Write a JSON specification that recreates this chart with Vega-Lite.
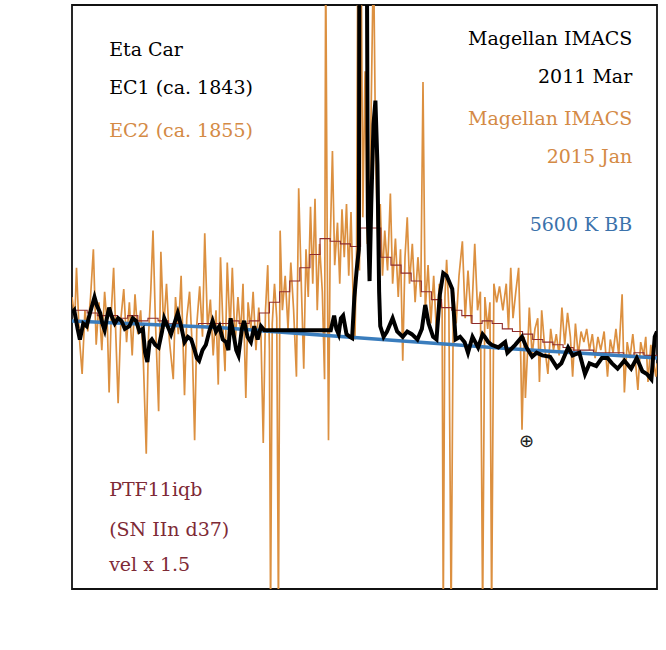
{
  "$schema": "https://vega.github.io/schema/vega-lite/v6.json",
  "width": 585,
  "height": 584,
  "autosize": {"type": "none"},
  "padding": {"left": 72, "top": 5, "right": 9, "bottom": 61},
  "background": "white",
  "config": {
    "view": {"stroke": "#111111", "strokeWidth": 1.8},
    "font": "DejaVu Serif"
  },
  "datasets": {
    "ec2": [
      {"v": -26.0, "f": 1.10}, {"v": -25.75, "f": 1.02}, {"v": -25.6, "f": 1.21}, {"v": -25.35, "f": 0.95}, {"v": -25.1, "f": 0.81},
      {"v": -24.85, "f": 1.05}, {"v": -24.6, "f": 0.97}, {"v": -24.35, "f": 1.10}, {"v": -24.1, "f": 1.28}, {"v": -23.85, "f": 0.92},
      {"v": -23.6, "f": 1.08}, {"v": -23.35, "f": 0.90}, {"v": -23.1, "f": 1.12}, {"v": -22.85, "f": 0.98}, {"v": -22.7, "f": 0.74},
      {"v": -22.5, "f": 1.05}, {"v": -22.3, "f": 1.21}, {"v": -22.1, "f": 0.95}, {"v": -21.9, "f": 0.70}, {"v": -21.65, "f": 1.02},
      {"v": -21.4, "f": 1.13}, {"v": -21.15, "f": 0.93}, {"v": -20.9, "f": 1.08}, {"v": -20.65, "f": 0.88}, {"v": -20.4, "f": 1.11},
      {"v": -20.15, "f": 0.96}, {"v": -19.9, "f": 1.05}, {"v": -19.65, "f": 0.85}, {"v": -19.4, "f": 0.51}, {"v": -19.2, "f": 0.95},
      {"v": -19.0, "f": 1.12}, {"v": -18.8, "f": 1.35}, {"v": -18.6, "f": 1.03}, {"v": -18.3, "f": 0.67}, {"v": -18.1, "f": 1.27},
      {"v": -17.85, "f": 0.98}, {"v": -17.6, "f": 1.15}, {"v": -17.35, "f": 0.94}, {"v": -17.0, "f": 0.79}, {"v": -16.8, "f": 1.10},
      {"v": -16.55, "f": 0.96}, {"v": -16.3, "f": 1.18}, {"v": -16.0, "f": 0.73}, {"v": -15.8, "f": 1.02}, {"v": -15.55, "f": 1.12},
      {"v": -15.3, "f": 0.90}, {"v": -15.1, "f": 0.56}, {"v": -14.9, "f": 1.00}, {"v": -14.65, "f": 1.14}, {"v": -14.4, "f": 0.95},
      {"v": -14.2, "f": 1.34}, {"v": -13.95, "f": 0.98}, {"v": -13.7, "f": 1.09}, {"v": -13.45, "f": 0.88}, {"v": -13.2, "f": 1.05},
      {"v": -13.0, "f": 0.77}, {"v": -12.8, "f": 1.25}, {"v": -12.55, "f": 0.95}, {"v": -12.4, "f": 0.82}, {"v": -12.2, "f": 1.23},
      {"v": -11.95, "f": 0.97}, {"v": -11.75, "f": 1.21}, {"v": -11.5, "f": 0.92}, {"v": -11.25, "f": 1.10}, {"v": -11.0, "f": 0.96},
      {"v": -10.8, "f": 1.15}, {"v": -10.55, "f": 0.72}, {"v": -10.35, "f": 1.08}, {"v": -10.1, "f": 0.98}, {"v": -9.9, "f": 1.12},
      {"v": -9.65, "f": 0.90}, {"v": -9.4, "f": 1.06}, {"v": -9.2, "f": 0.95}, {"v": -9.0, "f": 0.55}, {"v": -8.8, "f": 1.05},
      {"v": -8.6, "f": 1.22}, {"v": -8.45, "f": 0.90}, {"v": -8.35, "f": -0.1}, {"v": -8.2, "f": 1.00}, {"v": -8.0, "f": 1.15},
      {"v": -7.8, "f": 1.02}, {"v": -7.65, "f": -0.1}, {"v": -7.5, "f": 1.35}, {"v": -7.3, "f": 1.05}, {"v": -7.05, "f": 1.18},
      {"v": -6.8, "f": 0.98}, {"v": -6.55, "f": 1.23}, {"v": -6.3, "f": 1.05}, {"v": -6.05, "f": 0.80}, {"v": -5.85, "f": 1.51},
      {"v": -5.6, "f": 1.12}, {"v": -5.4, "f": 0.83}, {"v": -5.2, "f": 1.28}, {"v": -5.0, "f": 1.10}, {"v": -4.8, "f": 1.44},
      {"v": -4.6, "f": 1.15}, {"v": -4.4, "f": 1.47}, {"v": -4.2, "f": 1.05}, {"v": -4.0, "f": 1.30}, {"v": -3.75, "f": 1.12},
      {"v": -3.55, "f": 0.79}, {"v": -3.45, "f": 2.40}, {"v": -3.3, "f": 1.20}, {"v": -3.2, "f": 0.56}, {"v": -3.05, "f": 1.30},
      {"v": -2.85, "f": 1.65}, {"v": -2.65, "f": 1.22}, {"v": -2.4, "f": 1.38}, {"v": -2.2, "f": 1.15}, {"v": -2.0, "f": 1.43},
      {"v": -1.8, "f": 1.25}, {"v": -1.6, "f": 1.45}, {"v": -1.4, "f": 1.18}, {"v": -1.2, "f": 1.42}, {"v": -1.0, "f": 1.08},
      {"v": -0.85, "f": 0.94}, {"v": -0.7, "f": 1.30}, {"v": -0.6, "f": 2.40}, {"v": -0.45, "f": 1.20}, {"v": -0.3, "f": 2.40},
      {"v": -0.15, "f": 1.40}, {"v": 0.05, "f": 1.95}, {"v": 0.25, "f": 1.30}, {"v": 0.5, "f": 1.55}, {"v": 0.8, "f": 2.40},
      {"v": 1.0, "f": 1.60}, {"v": 1.2, "f": 1.30}, {"v": 1.4, "f": 1.45}, {"v": 1.6, "f": 1.18}, {"v": 1.8, "f": 1.35},
      {"v": 2.05, "f": 1.20}, {"v": 2.3, "f": 1.49}, {"v": 2.5, "f": 1.15}, {"v": 2.75, "f": 1.32}, {"v": 3.0, "f": 1.10},
      {"v": 3.2, "f": 1.28}, {"v": 3.4, "f": 0.86}, {"v": 3.6, "f": 1.25}, {"v": 3.8, "f": 1.40}, {"v": 4.0, "f": 1.15},
      {"v": 4.25, "f": 1.30}, {"v": 4.5, "f": 1.08}, {"v": 4.75, "f": 1.25}, {"v": 5.0, "f": 1.10}, {"v": 5.2, "f": 1.91},
      {"v": 5.4, "f": 1.05}, {"v": 5.65, "f": 1.22}, {"v": 5.9, "f": 1.00}, {"v": 6.15, "f": 1.18}, {"v": 6.4, "f": 0.96},
      {"v": 6.65, "f": 1.15}, {"v": 6.9, "f": 1.05}, {"v": 7.0, "f": -0.1}, {"v": 7.15, "f": 1.10}, {"v": 7.3, "f": 1.24},
      {"v": 7.5, "f": 1.05}, {"v": 7.7, "f": -0.1}, {"v": 7.9, "f": 1.12}, {"v": 8.15, "f": 1.00}, {"v": 8.4, "f": 1.18},
      {"v": 8.7, "f": 1.31}, {"v": 8.95, "f": 1.02}, {"v": 9.2, "f": 1.20}, {"v": 9.5, "f": 1.00}, {"v": 9.8, "f": 1.30},
      {"v": 10.05, "f": 1.05}, {"v": 10.3, "f": 1.12}, {"v": 10.5, "f": -0.1}, {"v": 10.7, "f": 1.10}, {"v": 10.95, "f": 0.98},
      {"v": 11.15, "f": 1.08}, {"v": 11.3, "f": -0.1}, {"v": 11.5, "f": 1.15}, {"v": 11.75, "f": 1.08}, {"v": 12.0, "f": 1.14},
      {"v": 12.3, "f": 1.05}, {"v": 12.6, "f": 1.15}, {"v": 12.8, "f": 0.98}, {"v": 13.0, "f": 1.21}, {"v": 13.2, "f": 1.02},
      {"v": 13.45, "f": 1.12}, {"v": 13.7, "f": 1.21}, {"v": 13.9, "f": 0.85}, {"v": 14.0, "f": 0.60}, {"v": 14.2, "f": 0.95},
      {"v": 14.3, "f": 0.72}, {"v": 14.5, "f": 0.90}, {"v": 14.65, "f": 1.06}, {"v": 14.9, "f": 0.88}, {"v": 15.15, "f": 0.98},
      {"v": 15.4, "f": 1.02}, {"v": 15.55, "f": 0.78}, {"v": 15.75, "f": 1.05}, {"v": 16.0, "f": 0.92}, {"v": 16.3, "f": 0.81},
      {"v": 16.55, "f": 0.98}, {"v": 16.8, "f": 0.90}, {"v": 17.05, "f": 0.96}, {"v": 17.3, "f": 0.88}, {"v": 17.55, "f": 1.06},
      {"v": 17.8, "f": 0.92}, {"v": 18.05, "f": 1.04}, {"v": 18.3, "f": 0.95}, {"v": 18.5, "f": 0.80}, {"v": 18.75, "f": 1.00},
      {"v": 19.0, "f": 0.88}, {"v": 19.25, "f": 0.97}, {"v": 19.5, "f": 0.93}, {"v": 19.75, "f": 0.98}, {"v": 20.0, "f": 0.90},
      {"v": 20.25, "f": 0.96}, {"v": 20.5, "f": 0.87}, {"v": 20.75, "f": 0.95}, {"v": 21.0, "f": 0.90}, {"v": 21.3, "f": 0.97},
      {"v": 21.6, "f": 0.80}, {"v": 21.85, "f": 0.94}, {"v": 22.1, "f": 0.89}, {"v": 22.35, "f": 0.98}, {"v": 22.6, "f": 0.88},
      {"v": 22.9, "f": 1.11}, {"v": 23.1, "f": 0.74}, {"v": 23.35, "f": 0.93}, {"v": 23.6, "f": 0.87}, {"v": 23.85, "f": 0.96},
      {"v": 24.1, "f": 0.85}, {"v": 24.3, "f": 0.75}, {"v": 24.55, "f": 0.93}, {"v": 24.8, "f": 0.88}, {"v": 25.0, "f": 0.95},
      {"v": 25.2, "f": 0.78}, {"v": 25.45, "f": 0.92}, {"v": 25.7, "f": 0.85}, {"v": 25.9, "f": 0.80}, {"v": 26.0, "f": 0.85}
    ],
    "ec1": [
      {"v": -26.0, "f": 1.04}, {"v": -25.8, "f": 1.05}, {"v": -25.5, "f": 0.98}, {"v": -25.3, "f": 0.94}, {"v": -25.0, "f": 1.00},
      {"v": -24.7, "f": 0.99}, {"v": -24.4, "f": 1.04}, {"v": -24.0, "f": 1.10}, {"v": -23.8, "f": 1.07}, {"v": -23.5, "f": 1.04},
      {"v": -23.3, "f": 1.00}, {"v": -23.1, "f": 0.975}, {"v": -22.9, "f": 1.02}, {"v": -22.7, "f": 1.06}, {"v": -22.5, "f": 1.03},
      {"v": -22.2, "f": 1.00}, {"v": -21.9, "f": 1.02}, {"v": -21.6, "f": 1.01}, {"v": -21.3, "f": 0.98}, {"v": -20.9, "f": 0.99},
      {"v": -20.6, "f": 1.02}, {"v": -20.3, "f": 1.01}, {"v": -20.0, "f": 0.97}, {"v": -19.7, "f": 0.98}, {"v": -19.5, "f": 0.89},
      {"v": -19.3, "f": 0.855}, {"v": -19.1, "f": 0.93}, {"v": -18.9, "f": 0.94}, {"v": -18.6, "f": 0.92}, {"v": -18.3, "f": 0.91},
      {"v": -18.0, "f": 0.97}, {"v": -17.8, "f": 1.02}, {"v": -17.5, "f": 0.99}, {"v": -17.2, "f": 0.96}, {"v": -16.9, "f": 1.00},
      {"v": -16.6, "f": 1.04}, {"v": -16.3, "f": 0.99}, {"v": -16.0, "f": 0.93}, {"v": -15.7, "f": 0.95}, {"v": -15.4, "f": 0.94},
      {"v": -15.1, "f": 0.90}, {"v": -14.9, "f": 0.87}, {"v": -14.7, "f": 0.86}, {"v": -14.4, "f": 0.90}, {"v": -14.1, "f": 0.92},
      {"v": -13.8, "f": 0.97}, {"v": -13.5, "f": 1.01}, {"v": -13.2, "f": 0.97}, {"v": -12.9, "f": 0.99}, {"v": -12.6, "f": 0.94},
      {"v": -12.3, "f": 0.93}, {"v": -12.1, "f": 0.90}, {"v": -11.9, "f": 1.02}, {"v": -11.6, "f": 0.95}, {"v": -11.4, "f": 0.90},
      {"v": -11.2, "f": 0.88}, {"v": -10.9, "f": 0.98}, {"v": -10.7, "f": 1.01}, {"v": -10.4, "f": 0.95}, {"v": -10.1, "f": 0.93},
      {"v": -9.8, "f": 0.99}, {"v": -9.5, "f": 0.94}, {"v": -9.2, "f": 0.99}, {"v": -8.9, "f": 0.975}, {"v": -3.0, "f": 0.975},
      {"v": -2.7, "f": 1.03}, {"v": -2.5, "f": 0.98}, {"v": -2.3, "f": 0.96}, {"v": -2.1, "f": 1.02}, {"v": -1.9, "f": 1.03},
      {"v": -1.6, "f": 0.96}, {"v": -1.3, "f": 0.95}, {"v": -1.1, "f": 0.945}, {"v": -0.9, "f": 1.10}, {"v": -0.7, "f": 1.20},
      {"v": -0.5, "f": 1.28}, {"v": -0.45, "f": 2.5}, {"v": -0.1, "f": 2.5}, {"v": 0.2, "f": 2.5}, {"v": 0.3, "f": 1.40},
      {"v": 0.45, "f": 1.16}, {"v": 0.6, "f": 1.45}, {"v": 0.8, "f": 1.75}, {"v": 0.97, "f": 1.84}, {"v": 1.15, "f": 1.60},
      {"v": 1.3, "f": 1.12}, {"v": 1.4, "f": 0.99}, {"v": 1.7, "f": 0.95}, {"v": 2.0, "f": 0.97}, {"v": 2.5, "f": 1.02},
      {"v": 2.9, "f": 0.97}, {"v": 3.4, "f": 0.95}, {"v": 3.8, "f": 0.97}, {"v": 4.2, "f": 0.96}, {"v": 4.7, "f": 0.94},
      {"v": 5.1, "f": 0.98}, {"v": 5.4, "f": 1.07}, {"v": 5.7, "f": 1.00}, {"v": 6.1, "f": 0.95}, {"v": 6.4, "f": 0.94},
      {"v": 6.7, "f": 1.11}, {"v": 7.0, "f": 1.19}, {"v": 7.3, "f": 1.18}, {"v": 7.8, "f": 1.13}, {"v": 8.1, "f": 0.94},
      {"v": 8.5, "f": 0.95}, {"v": 8.9, "f": 0.93}, {"v": 9.2, "f": 0.89}, {"v": 9.6, "f": 0.95}, {"v": 10.1, "f": 0.91},
      {"v": 10.5, "f": 0.96}, {"v": 10.7, "f": 0.95}, {"v": 11.0, "f": 0.93}, {"v": 11.3, "f": 0.92}, {"v": 11.9, "f": 0.91},
      {"v": 12.5, "f": 0.93}, {"v": 12.7, "f": 0.89}, {"v": 13.4, "f": 0.92}, {"v": 14.0, "f": 0.95}, {"v": 14.4, "f": 0.91},
      {"v": 14.9, "f": 0.875}, {"v": 15.3, "f": 0.89}, {"v": 15.8, "f": 0.88}, {"v": 16.5, "f": 0.875}, {"v": 17.1, "f": 0.835},
      {"v": 17.5, "f": 0.85}, {"v": 18.1, "f": 0.91}, {"v": 18.5, "f": 0.88}, {"v": 19.1, "f": 0.89}, {"v": 19.6, "f": 0.81},
      {"v": 20.0, "f": 0.85}, {"v": 20.6, "f": 0.84}, {"v": 21.1, "f": 0.87}, {"v": 21.6, "f": 0.87}, {"v": 22.0, "f": 0.85},
      {"v": 22.5, "f": 0.83}, {"v": 23.1, "f": 0.86}, {"v": 23.7, "f": 0.83}, {"v": 24.2, "f": 0.87}, {"v": 24.7, "f": 0.82},
      {"v": 25.1, "f": 0.81}, {"v": 25.5, "f": 0.79}, {"v": 25.8, "f": 0.95}, {"v": 26.0, "f": 0.97}
    ],
    "ptf": [
      {"v": -26.0, "f": 1.05}, {"v": -25.1, "f": 1.05}, {"v": -24.2, "f": 1.04}, {"v": -23.3, "f": 1.03}, {"v": -22.4, "f": 1.03},
      {"v": -21.5, "f": 1.02}, {"v": -20.6, "f": 1.03}, {"v": -19.7, "f": 1.01}, {"v": -18.8, "f": 1.02}, {"v": -17.9, "f": 1.01},
      {"v": -17.0, "f": 1.00}, {"v": -16.1, "f": 0.99}, {"v": -15.2, "f": 0.99}, {"v": -14.3, "f": 1.00}, {"v": -13.4, "f": 1.00},
      {"v": -12.5, "f": 1.00}, {"v": -11.6, "f": 1.01}, {"v": -10.7, "f": 1.00}, {"v": -9.8, "f": 1.01}, {"v": -8.9, "f": 1.04},
      {"v": -8.0, "f": 1.08}, {"v": -7.1, "f": 1.12}, {"v": -6.2, "f": 1.16}, {"v": -5.3, "f": 1.21}, {"v": -4.4, "f": 1.26},
      {"v": -3.5, "f": 1.32}, {"v": -2.6, "f": 1.31}, {"v": -1.7, "f": 1.30}, {"v": -0.8, "f": 1.29}, {"v": 0.1, "f": 1.36},
      {"v": 1.0, "f": 1.36}, {"v": 1.9, "f": 1.25}, {"v": 2.8, "f": 1.22}, {"v": 3.7, "f": 1.19}, {"v": 4.6, "f": 1.16},
      {"v": 5.5, "f": 1.12}, {"v": 6.4, "f": 1.09}, {"v": 7.3, "f": 1.06}, {"v": 8.2, "f": 1.05}, {"v": 9.1, "f": 1.03},
      {"v": 10.0, "f": 1.00}, {"v": 10.9, "f": 1.01}, {"v": 11.8, "f": 1.00}, {"v": 12.7, "f": 0.98}, {"v": 13.6, "f": 0.97},
      {"v": 14.5, "f": 0.96}, {"v": 15.4, "f": 0.94}, {"v": 16.3, "f": 0.93}, {"v": 17.2, "f": 0.92}, {"v": 18.1, "f": 0.91},
      {"v": 19.0, "f": 0.90}, {"v": 19.9, "f": 0.90}, {"v": 20.8, "f": 0.89}, {"v": 21.7, "f": 0.89}, {"v": 22.6, "f": 0.89},
      {"v": 23.5, "f": 0.88}, {"v": 24.4, "f": 0.89}, {"v": 25.3, "f": 0.88}, {"v": 26.2, "f": 0.88}
    ],
    "bb": [
      {"v": -26.0, "f": 1.01}, {"v": -13.0, "f": 0.985}, {"v": 0.0, "f": 0.945}, {"v": 13.0, "f": 0.905}, {"v": 26.0, "f": 0.87}
    ],
    "leftLabels": [
      {"text": "Eta Car", "vx": -22.7, "vy": 2.03, "series": "EC1"},
      {"text": "EC1 (ca. 1843)", "vx": -22.7, "vy": 1.887, "series": "EC1"},
      {"text": "EC2 (ca. 1855)", "vx": -22.7, "vy": 1.725, "series": "EC2"},
      {"text": "PTF11iqb", "vx": -22.7, "vy": 0.373, "series": "PTF"},
      {"text": "(SN IIn d37)", "vx": -22.7, "vy": 0.224, "series": "PTF"},
      {"text": "vel x 1.5", "vx": -22.7, "vy": 0.09, "series": "PTF"}
    ],
    "rightLabels": [
      {"text": "Magellan IMACS", "vx": 23.8, "vy": 2.072, "series": "EC1"},
      {"text": "2011 Mar", "vx": 23.8, "vy": 1.93, "series": "EC1"},
      {"text": "Magellan IMACS", "vx": 23.8, "vy": 1.772, "series": "EC2"},
      {"text": "2015 Jan", "vx": 23.8, "vy": 1.627, "series": "EC2"},
      {"text": "5600 K BB", "vx": 23.8, "vy": 1.371, "series": "BB"}
    ],
    "telluric": [
      {"text": "⊕", "vx": 14.4, "vy": 0.553}
    ]
  },
  "layer": [
    {
      "data": {"name": "ec2"},
      "mark": {"type": "line", "color": "#dc9040", "strokeWidth": 1.7, "clip": true},
      "encoding": {
        "x": {"field": "v", "type": "quantitative", "scale": {"domain": [-26, 26], "nice": false, "zero": false},
          "axis": {"orient": "bottom",
            "values": [-25, -24, -23, -22, -21, -20, -19, -18, -17, -16, -15, -14, -13, -12, -11, -10, -9, -8, -7, -6, -5, -4, -3, -2, -1, 0, 1, 2, 3, 4, 5, 6, 7, 8, 9, 10, 11, 12, 13, 14, 15, 16, 17, 18, 19, 20, 21, 22, 23, 24, 25],
            "format": "d", "labelExpr": "datum.value % 10 === 0 ? datum.label : ''", "labelOverlap": false, "labelBound": false,
            "ticks": false, "domain": false,
            "grid": true, "gridColor": "#111111", "gridWidth": 1.6, "gridOpacity": 1,
            "gridDash": {"condition": {"test": "datum.value % 10 === 0", "value": [8, 568, 8, 100]}, "value": [4, 576, 4, 100]},
            "labelFontSize": 18, "labelPadding": 14,
            "title": "Relative Velocity (10³ km/s)", "titleFontSize": 22, "titleFontWeight": "normal", "titlePadding": 4}},
        "y": {"field": "f", "type": "quantitative", "scale": {"domain": [0, 2.2], "nice": false, "zero": false},
          "axis": {"orient": "left", "values": [0, 0.5, 1, 1.5, 2], "format": ".1f", "ticks": false, "domain": false,
            "grid": true, "gridColor": "#111111", "gridWidth": 1.6, "gridOpacity": 1, "gridDash": [8, 569, 8, 100],
            "labelFontSize": 18, "labelPadding": 3,
            "title": "Fλ (normalized)", "titleFontSize": 22, "titleFontWeight": "normal", "titlePadding": 7}}
      }
    },
    {
      "data": {"name": "ptf"},
      "mark": {"type": "line", "color": "#8e2c2c", "strokeWidth": 1.1, "interpolate": "step", "clip": true},
      "encoding": {
        "x": {"field": "v", "type": "quantitative", "scale": {"domain": [-26, 26], "nice": false, "zero": false}, "axis": null},
        "y": {"field": "f", "type": "quantitative", "scale": {"domain": [0, 2.2], "nice": false, "zero": false}, "axis": null}
      }
    },
    {
      "data": {"name": "bb"},
      "mark": {"type": "line", "color": "#3a7dbd", "strokeWidth": 3.5, "clip": true},
      "encoding": {
        "x": {"field": "v", "type": "quantitative", "scale": {"domain": [-26, 26], "nice": false, "zero": false}, "axis": null},
        "y": {"field": "f", "type": "quantitative", "scale": {"domain": [0, 2.2], "nice": false, "zero": false}, "axis": null}
      }
    },
    {
      "mark": {"type": "rule", "color": "#d9b38c", "strokeWidth": 1.5, "strokeDash": [8, 6]},
      "encoding": {
        "x": {"datum": 0, "type": "quantitative", "scale": {"domain": [-26, 26], "nice": false, "zero": false}, "axis": null}
      }
    },
    {
      "data": {"name": "ec1"},
      "mark": {"type": "line", "color": "#000000", "strokeWidth": 4, "clip": true},
      "encoding": {
        "x": {"field": "v", "type": "quantitative", "scale": {"domain": [-26, 26], "nice": false, "zero": false}, "axis": null},
        "y": {"field": "f", "type": "quantitative", "scale": {"domain": [0, 2.2], "nice": false, "zero": false}, "axis": null}
      }
    },
    {
      "data": {"name": "leftLabels"},
      "mark": {"type": "text", "align": "left", "baseline": "middle", "fontSize": 19, "font": "DejaVu Serif"},
      "encoding": {
        "x": {"field": "vx", "type": "quantitative", "scale": {"domain": [-26, 26], "nice": false, "zero": false}, "axis": null},
        "y": {"field": "vy", "type": "quantitative", "scale": {"domain": [0, 2.2], "nice": false, "zero": false}, "axis": null},
        "text": {"field": "text"},
        "color": {"field": "series", "type": "nominal", "scale": {"domain": ["EC1", "EC2", "PTF", "BB"], "range": ["#000000", "#d48a45", "#7e2a36", "#3b72ab"]}, "legend": null}
      }
    },
    {
      "data": {"name": "rightLabels"},
      "mark": {"type": "text", "align": "right", "baseline": "middle", "fontSize": 19, "font": "DejaVu Serif"},
      "encoding": {
        "x": {"field": "vx", "type": "quantitative", "scale": {"domain": [-26, 26], "nice": false, "zero": false}, "axis": null},
        "y": {"field": "vy", "type": "quantitative", "scale": {"domain": [0, 2.2], "nice": false, "zero": false}, "axis": null},
        "text": {"field": "text"},
        "color": {"field": "series", "type": "nominal", "scale": {"domain": ["EC1", "EC2", "PTF", "BB"], "range": ["#000000", "#d48a45", "#7e2a36", "#3b72ab"]}, "legend": null}
      }
    },
    {
      "data": {"name": "telluric"},
      "mark": {"type": "text", "align": "center", "baseline": "middle", "fontSize": 18, "font": "DejaVu Sans", "color": "#222222"},
      "encoding": {
        "x": {"field": "vx", "type": "quantitative", "scale": {"domain": [-26, 26], "nice": false, "zero": false}, "axis": null},
        "y": {"field": "vy", "type": "quantitative", "scale": {"domain": [0, 2.2], "nice": false, "zero": false}, "axis": null},
        "text": {"field": "text"}
      }
    }
  ]
}
